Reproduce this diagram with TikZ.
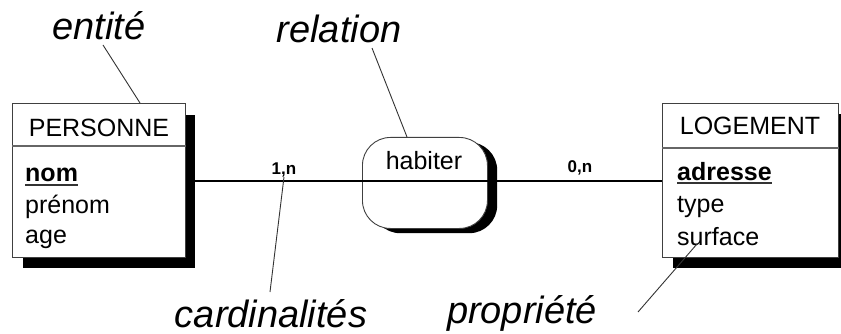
\documentclass[tikz,border=0pt]{standalone}
\usepackage{fontspec}
\setmainfont{Liberation Sans}
\begin{document}
\begin{tikzpicture}[x=1pt,y=-1pt,
  box/.style={draw=black!75, line width=0.9pt, fill=white, inner sep=0pt, anchor=north west},
  shadowbox/.style={fill=black, inner sep=0pt, anchor=north west},
  lbl/.style={font=\fontsize{38}{42}\selectfont\itshape, inner sep=0pt, anchor=base},
  attr/.style={font=\fontsize{25}{29}\selectfont, inner sep=0pt, anchor=base west},
  title/.style={font=\fontsize{25}{29}\selectfont, inner sep=0pt, anchor=base},
  card/.style={font=\fontsize{17}{20}\selectfont\bfseries, inner sep=0pt, anchor=base},
  leader/.style={draw=black!80, line width=0.9pt},
  sep/.style={draw=black!60, line width=1.4pt},
  uline/.style={draw=black!80, line width=1.6pt}]
\useasboundingbox (0,0) rectangle (841,334);

% ---- PERSONNE entity
\node[shadowbox, minimum width=172pt, minimum height=153pt] (persh) at (23,115) {};
\node[box, minimum width=173pt, minimum height=154pt] (pers) at (12,103) {};
\draw[sep] ([yshift=-43pt]pers.north west) -- ([yshift=-43pt]pers.north east);
\node[title] (perst) at (99,137) {PERSONNE};
\node[attr] (nom) at (25,182) {\bfseries nom};
\draw[uline] ([yshift=-3pt]nom.base west) -- ([yshift=-3pt]nom.base east);
\node[attr] (prenom) at (25,213) {prénom};
\node[attr] (age) at (25,243) {age};

% ---- LOGEMENT entity
\node[shadowbox, minimum width=177pt, minimum height=154pt] (logsh) at (673,114) {};
\node[box, minimum width=176pt, minimum height=154pt] (loge) at (662,103) {};
\draw[sep] ([yshift=-45pt]loge.north west) -- ([yshift=-45pt]loge.north east);
\node[title] (loget) at (750,135) {LOGEMENT};
\node[attr] (adr) at (677,180) {\bfseries adresse};
\draw[uline] ([yshift=-3pt]adr.base west) -- ([yshift=-3pt]adr.base east);
\node[attr] (type) at (677,212) {type};
\node[attr] (surf) at (677,245) {surface};

% ---- relation
\node[shadowbox, rounded corners=28pt, minimum width=125pt, minimum height=91pt] (relsh) at (372,142) {};
\node[box, rounded corners=28pt, minimum width=125pt, minimum height=91pt] (rel) at (362,137) {};
\node[title] (relt) at (424,170) {habiter};

% ---- association line
\coordinate (la) at (persh.east |- 0,181);
\coordinate (lb) at (loge.west |- 0,181);
\draw[line width=1.1pt] (la) -- (lb);
\node[card] (c1) at (284,175) {1,n};
\node[card] (c2) at (580,172) {0,n};

% ---- annotations
\node[lbl] (entite) at (99,40) {entité};
\coordinate (e1) at (103,45);
\coordinate (e2) at (140,103);
\draw[leader] (e1) -- (e2);

\node[lbl] (relation) at (339,43) {relation};
\coordinate (r1) at (372,48);
\coordinate (r2) at (407,137);
\draw[leader] (r1) -- (r2);

\node[lbl] (cardi) at (271,327) {cardinalités};
\coordinate (k1) at (270,292);
\coordinate (k2) at (284,177);
\draw[leader] (k1) -- (k2);

\node[lbl] (prop) at (522,323) {propriété};
\coordinate (p1) at (638,312);
\coordinate (p2) at (697,244);
\draw[leader] (p1) -- (p2);
\end{tikzpicture}
\end{document}
